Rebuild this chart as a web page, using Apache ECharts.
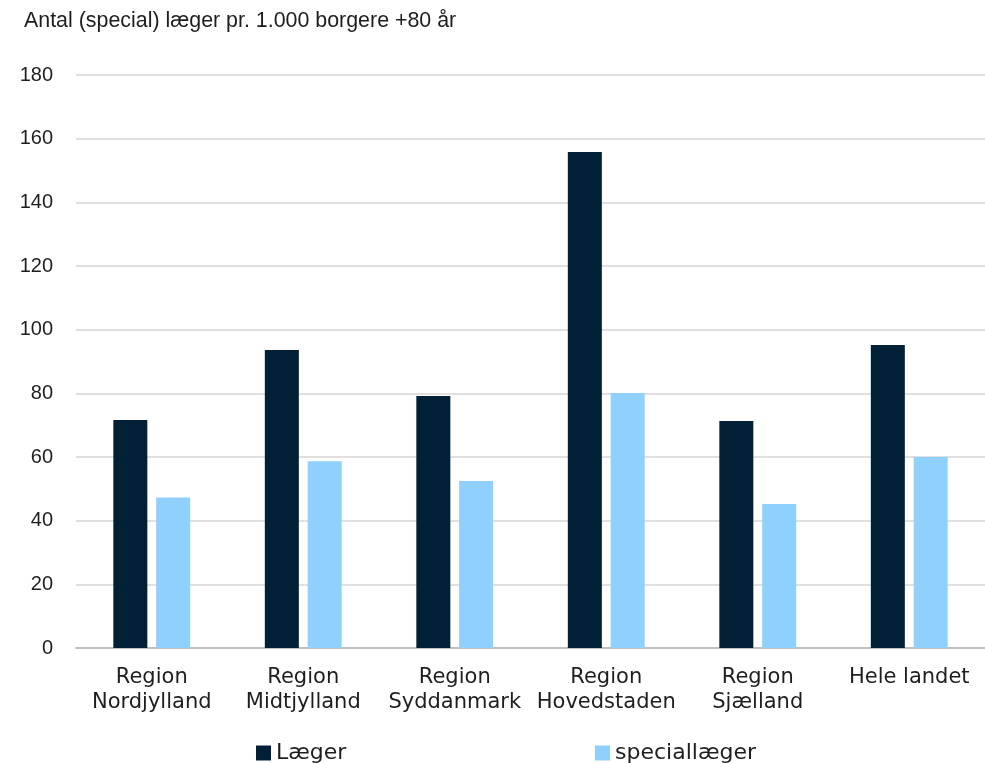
<!DOCTYPE html>
<html>
<head>
<meta charset="utf-8">
<script src="https://cdn.jsdelivr.net/npm/echarts@6/dist/echarts.min.js"></script>
<style>html,body{margin:0;padding:0;background:#fff;}#c{width:985px;height:763px;}</style>
</head>
<body>
<div id="c"></div>
<script>
var categories = ['Region\nNordjylland', 'Region\nMidtjylland', 'Region\nSyddanmark', 'Region\nHovedstaden', 'Region\nSjælland', 'Hele landet'];
var laeger = [71.6, 93.6, 79.2, 155.8, 71.3, 95.2];
var speciallaeger = [47.3, 58.7, 52.5, 80.1, 45.2, 60.0];
var yTicks = { min: 0, max: 180, interval: 20 };
var title = 'Antal (special) læger pr. 1.000 borgere +80 år';

var chart = echarts.init(document.getElementById('c'), null, { renderer: 'canvas' });
chart.setOption({
  backgroundColor: '#ffffff',
  animation: false,
  title: {
    text: title, left: 19, top: 6,
    textStyle: { fontFamily: 'Liberation Sans', fontSize: 21.4, fontWeight: 'normal', color: '#1e1e1e' }
  },
  legend: [{
    data: ['Læger'], left: 251, top: 737, icon: 'rect', itemWidth: 15, itemHeight: 15, itemGap: 6,
    textStyle: { fontFamily: 'DejaVu Sans', fontSize: 22, color: '#1e1e1e' }
  }, {
    data: ['speciallæger'], left: 590, top: 737, icon: 'rect', itemWidth: 15, itemHeight: 15,
    textStyle: { fontFamily: 'DejaVu Sans', fontSize: 22, color: '#1e1e1e' }
  }],
  grid: { left: 76, width: 920, top: 75, bottom: 115, containLabel: false },
  xAxis: {
    type: 'category', data: categories,
    axisLine: { lineStyle: { color: '#bfbfbf', width: 2 } },
    axisTick: { show: false },
    axisLabel: { fontFamily: 'DejaVu Sans', fontSize: 21, color: '#1e1e1e', margin: 17, lineHeight: 25, interval: 0 }
  },
  yAxis: {
    type: 'value', min: yTicks.min, max: yTicks.max, interval: yTicks.interval,
    axisLine: { show: false }, axisTick: { show: false },
    splitLine: { lineStyle: { color: '#e0e0e0', width: 2 } },
    axisLabel: { fontFamily: 'Liberation Sans', fontSize: 20, color: '#1e1e1e', margin: 23 }
  },
  series: [{
    name: 'Læger', type: 'bar', data: laeger, barWidth: 34, barGap: '26%',
    itemStyle: { color: '#022035' }
  }, {
    name: 'speciallæger', type: 'bar', data: speciallaeger, barWidth: 34,
    itemStyle: { color: '#8fd0ff' }
  }]
});
</script>
</body>
</html>
